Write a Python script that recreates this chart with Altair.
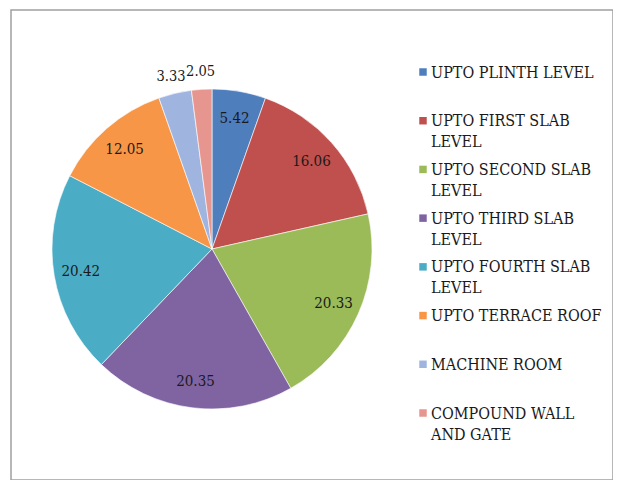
import altair as alt
import pandas as pd

categories = [
    "UPTO PLINTH LEVEL",
    "UPTO FIRST SLAB LEVEL",
    "UPTO SECOND SLAB LEVEL",
    "UPTO THIRD SLAB LEVEL",
    "UPTO FOURTH SLAB LEVEL",
    "UPTO TERRACE ROOF",
    "MACHINE ROOM",
    "COMPOUND WALL AND GATE",
]
legend_labels = [
    "UPTO PLINTH LEVEL",
    "UPTO FIRST SLAB\nLEVEL",
    "UPTO SECOND SLAB\nLEVEL",
    "UPTO THIRD SLAB\nLEVEL",
    "UPTO FOURTH SLAB\nLEVEL",
    "UPTO TERRACE ROOF",
    "MACHINE ROOM",
    "COMPOUND WALL\nAND GATE",
]
values = [5.42, 16.06, 20.33, 20.35, 20.42, 12.05, 3.33, 2.05]
colors = ["#4F7EBD", "#C0504D", "#9BBB59", "#8064A2", "#4BACC6", "#F79646", "#9FB5E0", "#E6968E"]

df = pd.DataFrame({
    "cat": categories,
    "legend": legend_labels,
    "value": values,
    "idx": list(range(len(categories))),
})

W, H = 602, 470
CX, CY, R = 201, 239, 160
FONT = "DejaVu Serif Condensed, DejaVu Serif"

color = alt.Color("cat:N", scale=alt.Scale(domain=categories, range=colors), legend=None)
theta = alt.Theta("value:Q", stack=True, sort=None)
order = alt.Order("idx:Q")

base = alt.Chart(df)

pie = base.mark_arc(radius=R, stroke="#ffffff", strokeWidth=0.6).encode(
    theta=theta, color=color, order=order,
    x=alt.value(CX), y=alt.value(CY),
)

inner = base.transform_calculate(
    lbl="datum.value >= 5 ? format(datum.value, '.2f') : ''"
).mark_text(radius=133, font=FONT, fontSize=15, color="#1a1a1a").encode(
    theta=theta, order=order, text="lbl:N",
    x=alt.value(CX), y=alt.value(CY),
)

outer = base.transform_calculate(
    lbl="datum.value < 5 ? format(datum.value, '.2f') : ''"
).mark_text(radius=177, font=FONT, fontSize=14.5, color="#1a1a1a").encode(
    theta=theta, order=order, text="lbl:N",
    x=alt.value(CX), y=alt.value(CY),
)

ypos = alt.Y("idx:Q", scale=alt.Scale(domain=[0, 7], range=[62, 403]), axis=None)

leg_sq = base.mark_square(size=56, opacity=1).encode(
    x=alt.value(412), y=ypos, color=color,
)
leg_txt = base.mark_text(
    align="left", baseline="alphabetic", dy=5.5, font=FONT, fontSize=16,
    lineBreak="\n", lineHeight=21, color="#1a1a1a",
).encode(
    x=alt.value(420), y=ypos, text="legend:N",
)

chart = alt.layer(pie, inner, outer, leg_sq, leg_txt).properties(
    width=W, height=H,
    padding={"left": 3, "top": 2, "right": 0, "bottom": 0},
    background="#ffffff",
).configure_view(stroke="#a0a0a0", strokeWidth=1.5)

chart.save("out.html", embed_options={"renderer": "svg", "actions": False})
